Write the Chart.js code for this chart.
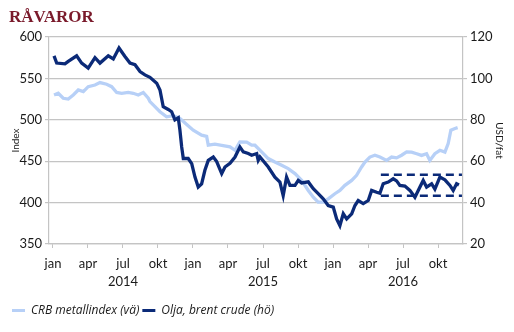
<!DOCTYPE html>
<html lang="sv">
<head>
  <meta charset="UTF-8">
  <title>Råvaror</title>
  <script src="https://cdn.jsdelivr.net/npm/chart.js"></script>
  <style>
    body { margin: 0; background: #fff; }
    #wrap { width: 514px; height: 332px; }
  </style>
</head>
<body>
  <div id="wrap"><canvas id="chart"></canvas></div>
  <script>
    // x = months since start of jan 2014
    const crbMonths = [0.09,0.45,0.88,1.31,1.74,2.17,2.60,3.02,3.60,4.03,4.60,5.03,5.46,5.89,6.45,6.88,7.31,7.74,8.17,8.31,
      8.74,9.17,9.74,10.31,10.88,11.46,12.02,12.74,13.17,13.31,13.88,14.46,15.17,15.60,16.02,16.60,17.03,17.31,17.88,18.45,
      19.02,19.60,20.16,20.74,21.31,21.88,22.31,22.73,23.16,23.59,24.16,24.59,25.02,25.60,26.02,26.45,26.74,27.16,27.59,28.02,
      28.59,29.02,29.45,29.88,30.31,30.74,31.17,31.59,32.02,32.30,32.73,33.16,33.59,33.87,34.10,34.45,34.68];
    const crbValues = [530,532,526,525,530,536,534,540,542,545,543,540,533,532,533,532,530,533,526,522,
      515.8,509.7,503.6,505,501.7,494.4,487.5,481.4,480,469.3,470.5,469,467.3,463.2,473.3,473,469.3,469.3,461.2,453.2,
      449,445,441,435,426.8,414.7,406.5,400.5,400.5,404.6,410.7,414.7,420.8,426.8,432.9,443,449,455,457.2,455,
      451,455,454,457.2,461.2,461,459,457,459,451,459,463.2,461,471.4,487.5,489.5,490.5];

    const oilMonths = [0.09,0.32,1.03,1.31,2.03,2.46,3.02,3.60,4.03,4.74,5.17,5.66,6.17,6.60,7.03,7.46,7.88,8.31,8.89,9.17,
      9.45,9.88,10.17,10.45,10.74,10.88,11.03,11.17,11.59,11.89,12.17,12.45,12.74,13.02,13.31,13.74,14.03,14.46,14.74,15.17,
      15.60,16.02,16.31,16.74,17.03,17.46,17.59,17.74,18.45,19.02,19.45,19.73,20.02,20.31,20.74,21.02,21.31,21.88,22.31,22.73,
      23.16,23.59,24.02,24.31,24.59,24.88,25.17,25.60,25.88,26.16,26.59,27.02,27.31,27.74,28.02,28.30,28.73,29.16,29.45,29.73,
      30.16,30.59,31.02,31.45,31.73,32.02,32.45,32.73,33.16,33.59,34.02,34.30,34.59,34.79];
    const oilValues = [110.9,107.4,107.0,108.2,110.9,107.4,105.0,110.0,107.4,110.9,109.4,114.7,110.6,107.4,106.6,103.3,101.7,100.5,97.7,94.4,
      86.3,85.0,83.9,80.0,81.0,75.0,66.9,61.3,61.3,58.8,52.3,47.5,49.0,55.6,60.4,62.0,59.8,54.0,57.2,59.0,
      62.0,66.9,64.5,63.7,62.9,63.7,60.4,62.0,57.2,52.3,49.9,43.4,52.3,48.3,48.3,50.7,49.5,50.0,46.7,44.3,
      41.8,38.6,37.8,32.1,28.9,34.6,32.1,34.6,38.6,41.0,39.5,41.0,45.9,45.0,44.5,49.1,49.9,51.5,50.5,48.3,
      48.0,45.9,42.6,47.5,50.7,47.5,49.1,46.5,52.3,51.0,48.3,45.9,49.1,48.5];

    // dashed band around oil price
    const bandMonths = [28.1, 35.05];
    const bandLevels = [53.5, 43.3];

    const monthLabels = ['jan', 'apr', 'jul', 'okt'];
    const yearLabels = ['2014', '2015', '2016'];

    const DARK = '#0b2a78';
    const LIGHT = '#b7d0f7';
    const GRID = '#c4c4c4';
    const TEXT = '#1a1a1a';

    const toPoints = (xs, ys) => xs.map((x, i) => ({ x: x, y: ys[i] }));

    const bandSets = bandLevels.map(level => ({
      label: 'band',
      data: toPoints(bandMonths, bandMonths.map(() => level)),
      yAxisID: 'yRight',
      borderColor: DARK,
      borderWidth: 2.5,
      borderDash: [8, 5],
      pointRadius: 0,
      order: 0
    }));

    const tickFont = { family: 'Lato', size: 13 };

    new Chart(document.getElementById('chart'), {
      type: 'line',
      data: {
        datasets: [
          {
            label: 'CRB metallindex (vä)',
            data: toPoints(crbMonths, crbValues),
            yAxisID: 'yLeft',
            borderColor: LIGHT,
            backgroundColor: LIGHT,
            borderWidth: 3.3,
            pointRadius: 0,
            tension: 0,
            order: 2
          },
          {
            label: 'Olja, brent crude (hö)',
            data: toPoints(oilMonths, oilValues),
            yAxisID: 'yRight',
            borderColor: DARK,
            backgroundColor: DARK,
            borderWidth: 3.3,
            pointRadius: 0,
            tension: 0,
            order: 1
          },
          ...bandSets
        ]
      },
      options: {
        responsive: true,
        maintainAspectRatio: false,
        animation: false,
        layout: { padding: { left: 9, right: 0, top: 0, bottom: 5.5 } },
        scales: {
          x: {
            type: 'linear',
            min: -0.34,
            max: 35.14,
            afterFit: s => { s.height = 57.5; },
            afterBuildTicks: s => {
              s.ticks = [];
              yearLabels.forEach((y, yi) => monthLabels.forEach((m, mi) => s.ticks.push({ value: yi * 12 + mi * 3 })));
            },
            ticks: {
              autoSkip: false,
              maxRotation: 0,
              padding: 6,
              color: TEXT,
              font: { family: 'Lato', size: 13, lineHeight: 1.45 },
              callback: v => {
                const m = monthLabels[Math.round(v / 3) % 4];
                return Math.round(v) % 12 === 6 ? [m, yearLabels[Math.floor(v / 12)]] : m;
              }
            },
            grid: { drawOnChartArea: false, color: GRID, tickLength: 4 },
            border: { color: GRID, width: 1.2 }
          },
          yLeft: {
            position: 'left',
            min: 350,
            max: 600,
            afterFit: s => { s.width = 40; },
            ticks: { stepSize: 50, padding: 3, color: TEXT, font: tickFont },
            grid: { color: GRID, lineWidth: 1.2, tickLength: 4 },
            border: { color: GRID, width: 1.2 },
            title: { display: true, text: 'Index', color: TEXT, font: { family: 'Lato', size: 10 }, padding: { top: 1, bottom: 0 } }
          },
          yRight: {
            position: 'right',
            min: 20,
            max: 120,
            afterFit: s => { s.width = 51; },
            ticks: { stepSize: 20, padding: 3, color: TEXT, font: tickFont },
            grid: { drawOnChartArea: false, color: GRID, lineWidth: 1.2, tickLength: 4 },
            border: { color: GRID, width: 1.2 },
            title: { display: true, text: 'USD/fat', color: TEXT, font: { family: 'Lato', size: 10 }, padding: { top: 9, bottom: 0 } }
          }
        },
        plugins: {
          title: {
            display: true,
            text: 'RÅVAROR',
            align: 'start',
            color: '#7a1a2b',
            font: { family: 'Liberation Serif', size: 17, weight: 'bold' },
            padding: { top: 7.8, bottom: 8.8 }
          },
          legend: {
            position: 'bottom',
            align: 'start',
            labels: {
              boxWidth: 13,
              boxHeight: 3,
              padding: 3,
              color: TEXT,
              font: { family: 'Open Sans', size: 12, style: 'italic' },
              generateLabels: chart => Chart.defaults.plugins.legend.labels.generateLabels(chart)
                .filter(item => item.datasetIndex < 2)
                .map(item => Object.assign(item, { lineWidth: 0 })),
              sort: (a, b) => a.datasetIndex - b.datasetIndex
            }
          },
          tooltip: { enabled: false }
        }
      }
    });
  </script>
</body>
</html>
